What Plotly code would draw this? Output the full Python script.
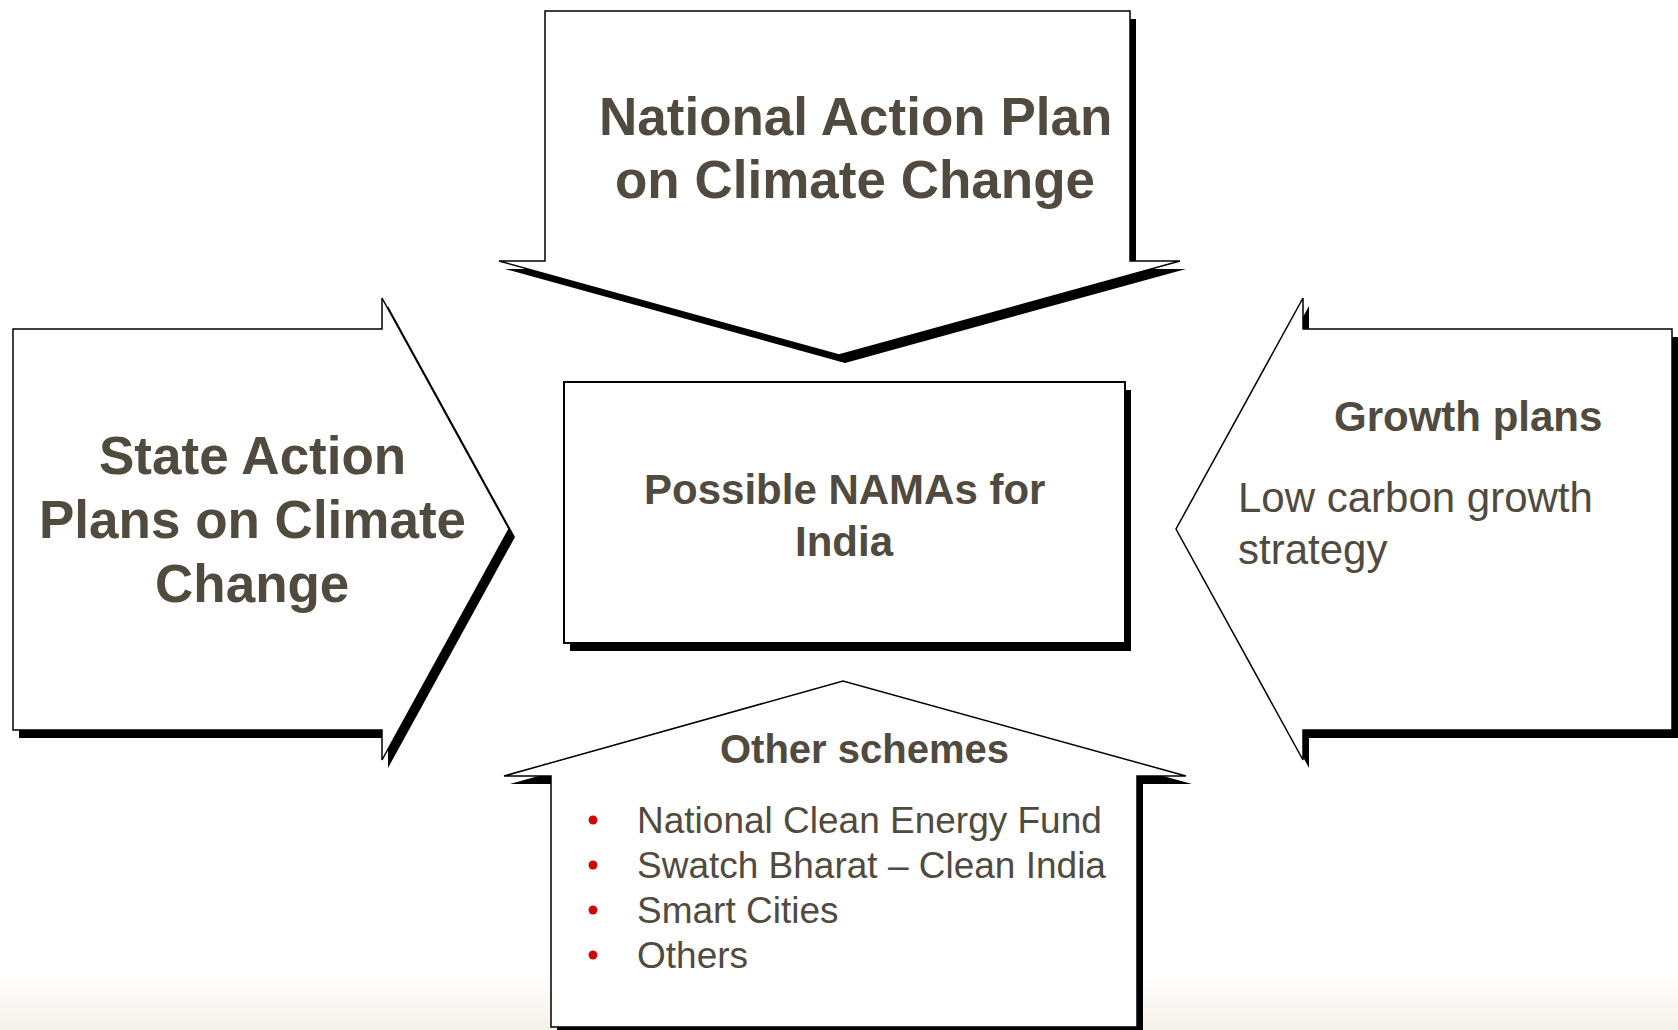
import plotly.graph_objects as go

# ---- text content ----
top_label_lines = ["National Action Plan", "on Climate Change"]
left_label_lines = ["State Action", "Plans on Climate", "Change"]
center_label_lines = ["Possible NAMAs for", "India"]
right_title = "Growth plans"
right_body_lines = ["Low carbon growth", "strategy"]
bottom_title = "Other schemes"
bottom_items = ["National Clean Energy Fund", "Swatch Bharat \u2013 Clean India", "Smart Cities", "Others"]

W, H = 1678, 1030
TEXT = "#514A3E"
RED = "#CC0A0A"
FONT = "Liberation Sans, Arial, sans-serif"
SDX, SDY = 6, 8

# ---- shape geometry (layout) ----
top_arrow = [(545, 11), (1130, 11), (1130, 261), (1180, 261), (839, 355), (499, 261), (545, 261)]
left_arrow = [(13, 329), (382, 329), (382, 298), (509, 529), (382, 760), (382, 730), (13, 730)]
right_arrow = [(1672, 329), (1303, 329), (1303, 298), (1176, 529), (1303, 760), (1303, 730), (1672, 730)]
center_box = [(564, 382), (1125, 382), (1125, 643), (564, 643)]
bottom_arrow = [(551, 1027), (551, 776), (504, 776), (843, 681), (1186, 776), (1137, 776), (1137, 1027)]


def path(pts, dx=0, dy=0):
    s = "M %g %g " % (pts[0][0] + dx, pts[0][1] + dy)
    for x, y in pts[1:]:
        s += "L %g %g " % (x + dx, y + dy)
    return s + "Z"


shapes = []
# faint gradient at the bottom of the page
grad_steps = 12
for i in range(grad_steps):
    t = (i + 1) / grad_steps
    r = int(255 - (255 - 246) * t)
    g = int(255 - (255 - 242) * t)
    b = int(255 - (255 - 236) * t)
    y0 = 975 + i * (55 / grad_steps)
    shapes.append(dict(type="rect", xref="x", yref="y", x0=0, x1=W, y0=y0, y1=y0 + 55 / grad_steps + 0.5,
                       fillcolor="rgb(%d,%d,%d)" % (r, g, b), line=dict(width=0), layer="below"))

for poly, lw in [(top_arrow, 1.5), (left_arrow, 1.5), (right_arrow, 1.5), (center_box, 2), (bottom_arrow, 1.5)]:
    shapes.append(dict(type="path", xref="x", yref="y", path=path(poly, SDX, SDY),
                       fillcolor="black", line=dict(width=0), layer="below"))
    shapes.append(dict(type="path", xref="x", yref="y", path=path(poly),
                       fillcolor="white", line=dict(color="black", width=lw), layer="below"))

annotations = []


def add_text(txt, x, y, size, bold=True, xanchor="center", color=TEXT):
    annotations.append(dict(x=x, y=y, xref="x", yref="y", text=("<b>%s</b>" % txt) if bold else txt,
                            showarrow=False, xanchor=xanchor, yanchor="middle",
                            font=dict(family=FONT, size=size, color=color)))


top_y = [116, 179]
for t, y in zip(top_label_lines, top_y):
    add_text(t, 855, y, 53)

left_y = [455, 519, 583]
for t, y in zip(left_label_lines, left_y):
    add_text(t, 252, y, 53)

center_y = [489, 541]
for t, y in zip(center_label_lines, center_y):
    add_text(t, 844, y, 42)

add_text(right_title, 1468, 416, 42)
right_y = [497, 549]
for t, y in zip(right_body_lines, right_y):
    add_text(t, 1236, y, 42, bold=False, xanchor="left")

add_text(bottom_title, 864, 749, 40)
item_y = [820, 865, 910, 955]
for t, y in zip(bottom_items, item_y):
    add_text(t, 635, y, 37, bold=False, xanchor="left")

fig = go.Figure()
fig.add_trace(go.Scatter(x=[593] * len(bottom_items), y=item_y, mode="markers",
                         marker=dict(color=RED, size=9, line=dict(width=0)),
                         hoverinfo="skip", showlegend=False))

fig.update_layout(
    width=W, height=H, margin=dict(l=0, r=0, t=0, b=0),
    paper_bgcolor="white", plot_bgcolor="white",
    xaxis=dict(range=[0, W], visible=False, fixedrange=True),
    yaxis=dict(range=[H, 0], visible=False, fixedrange=True),
    shapes=shapes, annotations=annotations, showlegend=False,
)
fig.write_html("out.html", config={"displayModeBar": False},
               post_script="document.body.style.margin='0';document.body.style.overflow='hidden';")
